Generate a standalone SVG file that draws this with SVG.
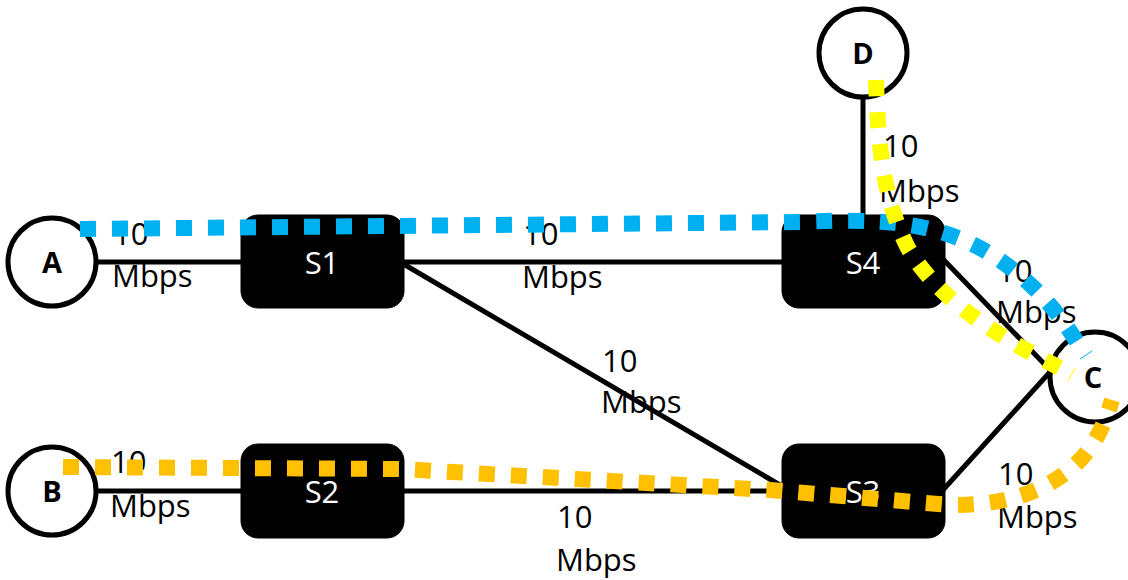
<svg xmlns="http://www.w3.org/2000/svg" width="1128" height="580" viewBox="0 0 1128 580">
<style>
.host{fill:#fff;stroke:#000;stroke-width:5}
.hl{font-family:"Open Sans","Liberation Sans",sans-serif;font-weight:bold;font-size:29px;fill:#000;text-anchor:middle}
.sw{fill:#000;stroke:#000;stroke-width:1}
.sl{font-family:"Open Sans","Liberation Sans",sans-serif;font-size:31px;fill:#fff;text-anchor:middle}
.link{stroke:#000;stroke-width:5;fill:none}
.lbl{font-family:"Open Sans","Liberation Sans",sans-serif;font-size:31px;fill:#000}
.path{fill:none;stroke-width:16;stroke-dasharray:16 16}
</style>
<g id="connectors">
<line class="link" x1="96" y1="262" x2="241" y2="262"/>
<line class="link" x1="404" y1="262" x2="782" y2="262"/>
<line class="link" x1="400" y1="262" x2="785" y2="488"/>
<line class="link" x1="96" y1="491" x2="241" y2="491"/>
<line class="link" x1="404" y1="491" x2="782" y2="491"/>
<line class="link" x1="863" y1="98" x2="863" y2="215"/>
<line class="link" x1="940" y1="256" x2="1052" y2="372"/>
<line class="link" x1="942" y1="491" x2="1050" y2="372"/>
</g>
<g id="labels">
<text class="lbl" x="113" y="245">10</text><text class="lbl" x="112" y="287">Mbps</text>
<text class="lbl" x="523" y="245">10</text><text class="lbl" x="522" y="288">Mbps</text>
<text class="lbl" x="602" y="372">10</text><text class="lbl" x="601" y="413">Mbps</text>
<text class="lbl" x="883" y="157">10</text><text class="lbl" x="879" y="202">Mbps</text>
<text class="lbl" x="997" y="282">10</text><text class="lbl" x="996" y="323">Mbps</text>
<text class="lbl" x="111" y="473">10</text><text class="lbl" x="110" y="517">Mbps</text>
<text class="lbl" x="557" y="528">10</text><text class="lbl" x="556" y="571">Mbps</text>
<text class="lbl" x="998" y="485">10</text><text class="lbl" x="997" y="528">Mbps</text>
</g>
<g id="A"><circle class="host" cx="52" cy="262" r="44"/><text class="hl" x="52" y="273">A</text></g>
<g id="B"><circle class="host" cx="52" cy="491" r="44"/><text class="hl" x="52" y="502">B</text></g>
<g id="C"><circle class="host" cx="1095" cy="377" r="45"/><text class="hl" x="1093" y="388">C</text>
<line x1="1080" y1="359" x2="1092" y2="351" stroke="#00B0F0" stroke-width="1"/>
<line x1="1068" y1="381" x2="1075" y2="368" stroke="#FFFF00" stroke-width="1"/></g>
<g id="D"><circle class="host" cx="863" cy="53" r="44"/><text class="hl" x="863" y="64">D</text></g>
<g id="S1"><rect class="sw" x="241" y="215" width="163" height="93" rx="17"/><text class="sl" x="322" y="274">S1</text></g>
<g id="S2"><rect class="sw" x="241" y="444" width="163" height="94" rx="17"/><text class="sl" x="322" y="503">S2</text></g>
<g id="S3"><rect class="sw" x="782" y="444" width="163" height="94" rx="17"/><text class="sl" x="863" y="503">S3</text></g>
<g id="S4"><rect class="sw" x="782" y="215" width="163" height="93" rx="17"/><text class="sl" x="863" y="274">S4</text></g>
<g id="flows">
<path class="path" stroke="#00B0F0" d="M80 229 L800 222 C880 218 930 222 980 248 C1020 270 1052 302 1077 342"/>
<path class="path" stroke="#FFFF00" d="M876 80 C878 150 884 200 908 248 C938 300 1000 338 1060 368"/>
<path class="path" stroke="#FFC000" d="M63 467 L400 469 L770 490 L950 505 C1020 506 1060 482 1082 458 C1098 440 1106 420 1112 400"/>
</g>
</svg>
